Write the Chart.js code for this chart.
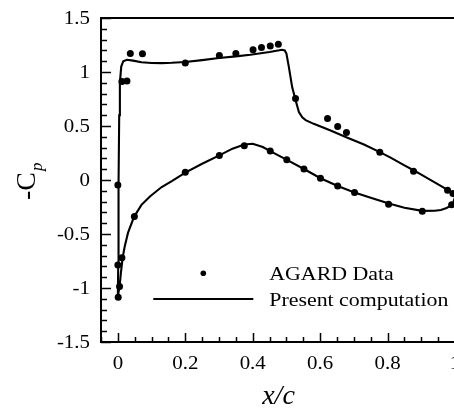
<!DOCTYPE html>
<html>
<head>
<meta charset="utf-8">
<script src="https://cdn.jsdelivr.net/npm/chart.js@4/dist/chart.umd.min.js"></script>
<style>
  html, body { margin: 0; padding: 0; overflow: hidden; background: #fff; }
  #wrap { width: 480px; height: 408px; }
</style>
</head>
<body>
<div id="wrap"><canvas id="cp" width="480" height="408"></canvas></div>
<script>
// AGARD data — upper surface
const agardUpperX = [0.000, 0.000, 0.012, 0.027, 0.037, 0.073, 0.200, 0.301, 0.350, 0.401, 0.426, 0.452, 0.476,
  0.527, 0.622, 0.652, 0.678, 0.777, 0.877, 0.978, 0.994];
const agardUpperY = [-0.046, -0.787, 0.913, 0.917, 1.172, 1.169, 1.083, 1.153, 1.172, 1.206, 1.227, 1.240, 1.258,
  0.754, 0.569, 0.495, 0.440, 0.256, 0.080, -0.095, -0.126];
// AGARD data — lower surface
const agardLowerX = [0.001, 0.005, 0.012, 0.049, 0.200, 0.301, 0.375, 0.452, 0.501, 0.552, 0.601, 0.652, 0.702,
  0.803, 0.903, 0.990];
const agardLowerY = [-1.085, -0.987, -0.720, -0.338, 0.071, 0.228, 0.317, 0.268, 0.188, 0.102, 0.016, -0.055, -0.115,
  -0.224, -0.289, -0.230];

// Present computation — upper surface
const compUpperX = [0.000, 0.001, 0.002, 0.004, 0.006, 0.010, 0.016, 0.027, 0.045, 0.070, 0.100, 0.130, 0.160, 0.200,
  0.250, 0.300, 0.350, 0.393, 0.450, 0.487, 0.495, 0.500, 0.507, 0.517, 0.522, 0.527, 0.537, 0.547, 0.557, 0.581,
  0.631, 0.681, 0.730, 0.777, 0.809, 0.850, 0.877, 0.900, 0.950, 0.978, 1.000];
const compUpperY = [-1.090, -0.800, -0.050, 0.600, 0.900, 1.050, 1.100, 1.113, 1.105, 1.090, 1.083, 1.082, 1.085, 1.092,
  1.110, 1.129, 1.145, 1.160, 1.185, 1.206, 1.200, 1.170, 1.050, 0.860, 0.800, 0.740, 0.630, 0.580, 0.554, 0.520,
  0.458, 0.391, 0.329, 0.258, 0.207, 0.135, 0.090, 0.050, -0.040, -0.092, -0.135];
// Present computation — lower surface
const compLowerX = [0.000, 0.002, 0.005, 0.009, 0.014, 0.020, 0.030, 0.048, 0.070, 0.096, 0.130, 0.160, 0.200, 0.250,
  0.301, 0.340, 0.375, 0.400, 0.430, 0.452, 0.500, 0.552, 0.601, 0.652, 0.702, 0.750, 0.804, 0.850, 0.903, 0.940,
  0.958, 0.975, 0.993, 1.000];
const compLowerY = [-1.090, -1.040, -0.987, -0.860, -0.725, -0.620, -0.490, -0.341, -0.230, -0.150, -0.065, -0.010,
  0.068, 0.150, 0.228, 0.290, 0.328, 0.335, 0.305, 0.268, 0.188, 0.102, 0.016, -0.055, -0.115, -0.165, -0.218,
  -0.257, -0.286, -0.285, -0.277, -0.260, -0.224, -0.160];

// axis ticks
const xTicks = [0, 0.2, 0.4, 0.6, 0.8, 1];
const xTickLabels = ['0', '0.2', '0.4', '0.6', '0.8', '1'];
const yTicks = [-1.5, -1, -0.5, 0, 0.5, 1, 1.5];
const yTickLabels = ['-1.5', '-1', '-0.5', '0', '0.5', '1', '1.5'];

const pts = (xs, ys) => xs.map((x, i) => ({ x, y: ys[i] }));

const SERIF = '"Liberation Serif", "Times New Roman", serif';

function stretchText(ctx, str, x, y, align, sx) {
  ctx.save();
  ctx.translate(x, y);
  ctx.scale(sx, 1);
  ctx.textAlign = align;
  ctx.textBaseline = 'alphabetic';
  ctx.fillText(str, 0, 0);
  ctx.restore();
}

const frame = {
  id: 'frame',
  afterDraw(chart) {
    const { ctx, chartArea: a, scales } = chart;
    const xs = scales.x, ys = scales.y;
    ctx.save();
    ctx.strokeStyle = '#000';
    ctx.fillStyle = '#000';

    // inward ticks, bottom and left
    ctx.lineWidth = 1.5;
    ctx.beginPath();
    for (let v = -0.05; v <= 1.0001; v += 0.05) {
      const px = Math.round(xs.getPixelForValue(v)) + 0.5;
      const major = Math.abs(v * 5 - Math.round(v * 5)) < 1e-6;
      ctx.moveTo(px, a.bottom);
      ctx.lineTo(px, a.bottom - (major ? 9 : 5));
    }
    for (let v = -1.5; v <= 1.5001; v += 0.1) {
      const py = Math.round(ys.getPixelForValue(v)) + 0.5;
      const major = Math.abs(v * 2 - Math.round(v * 2)) < 1e-6;
      ctx.moveTo(a.left, py);
      ctx.lineTo(a.left + (major ? 10 : 6), py);
    }
    ctx.stroke();

    // frame
    ctx.lineWidth = 2;
    ctx.strokeRect(a.left, a.top, a.right - a.left, a.bottom - a.top);

    // tick labels
    ctx.font = '18.5px ' + SERIF;
    xTicks.forEach((v, i) => stretchText(ctx, xTickLabels[i], xs.getPixelForValue(v), 368.5, 'center', 1.13));
    yTicks.forEach((v, i) => stretchText(ctx, yTickLabels[i], 90, ys.getPixelForValue(v) + 6, 'right', 1.13));

    // axis titles
    ctx.font = 'italic 28px ' + SERIF;
    ctx.textAlign = 'center';
    ctx.textBaseline = 'alphabetic';
    ctx.fillText('x/c', 278.5, 404);

    ctx.save();
    ctx.translate(35, 200);
    ctx.rotate(-Math.PI / 2);
    ctx.textAlign = 'left';
    ctx.font = '28px ' + SERIF;
    ctx.fillText('-C', 0, 0);
    const w = ctx.measureText('-C').width;
    ctx.font = 'italic 17px ' + SERIF;
    ctx.fillText('p', w + 1, 7);
    ctx.restore();

    // legend
    ctx.beginPath();
    ctx.arc(203.3, 273.3, 2.8, 0, Math.PI * 2);
    ctx.fill();
    ctx.lineWidth = 2;
    ctx.beginPath();
    ctx.moveTo(153.3, 299);
    ctx.lineTo(253.3, 299);
    ctx.stroke();
    ctx.font = '19px ' + SERIF;
    stretchText(ctx, 'AGARD Data', 269.3, 280, 'left', 1.15);
    stretchText(ctx, 'Present computation', 269.3, 306.3, 'left', 1.15);
    ctx.restore();
  }
};

const lineStyle = { showLine: true, borderColor: '#000', borderWidth: 2.1, pointRadius: 0, tension: 0, fill: false };
const dotStyle = { showLine: false, pointRadius: 3.5, pointBackgroundColor: '#000', pointBorderWidth: 0 };

new Chart(document.getElementById('cp'), {
  type: 'scatter',
  data: {
    datasets: [
      { label: 'Present computation (upper)', data: pts(compUpperX, compUpperY), ...lineStyle },
      { label: 'Present computation (lower)', data: pts(compLowerX, compLowerY), ...lineStyle },
      { label: 'AGARD Data (upper)', data: pts(agardUpperX, agardUpperY), ...dotStyle },
      { label: 'AGARD Data (lower)', data: pts(agardLowerX, agardLowerY), ...dotStyle }
    ]
  },
  options: {
    responsive: false,
    animation: false,
    devicePixelRatio: 1,
    layout: { padding: { top: 18, right: 25, left: 0, bottom: 0 } },
    plugins: { legend: { display: false }, tooltip: { enabled: false } },
    scales: {
      x: {
        type: 'linear', min: -0.05, max: 1,
        ticks: { display: false }, grid: { display: false }, border: { display: false },
        afterFit(s) { s.height = 66; }
      },
      y: {
        type: 'linear', min: -1.5, max: 1.5,
        ticks: { display: false }, grid: { display: false }, border: { display: false },
        afterFit(s) { s.width = 101; }
      }
    }
  },
  plugins: [frame]
});
</script>
</body>
</html>
